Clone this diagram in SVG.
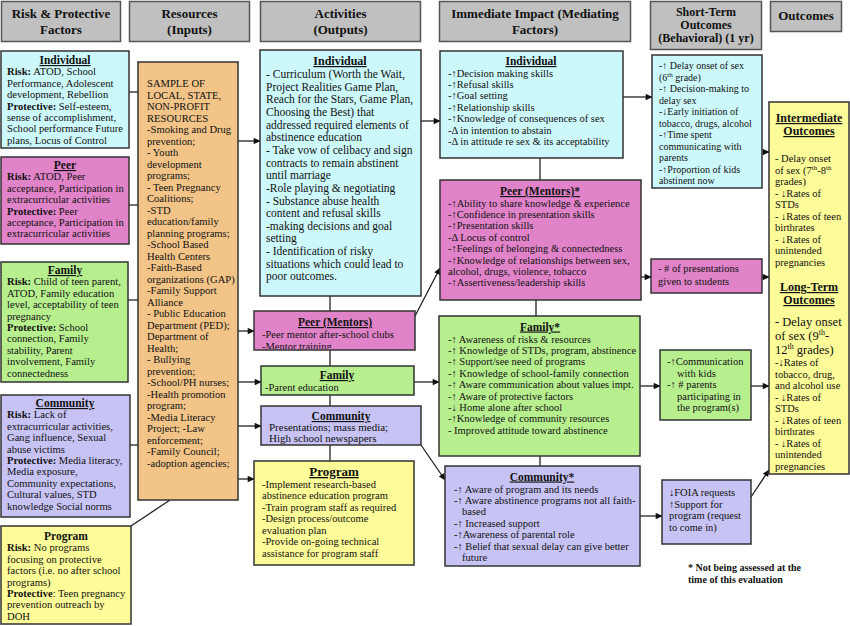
<svg xmlns="http://www.w3.org/2000/svg" width="850" height="626" viewBox="0 0 850 626">
<style>
text{font-family:"Liberation Serif","Times New Roman",serif;fill:#111;font-size:11px}
.hd{fill:#c0c0c0;stroke:#555;stroke-width:1.5}
.ht{font-weight:bold;font-size:13px;text-anchor:middle}
.bx{stroke:#333;stroke-width:1.5}
.cy{fill:#cdf8fb}.mg{fill:#e083c8}.gr{fill:#b7ef8f}.lv{fill:#c7c3f5}.yl{fill:#fdfc98}.tn{fill:#f2c488}
.ti{font-weight:bold;text-decoration:underline;text-anchor:middle;font-size:11.5px}
.b{font-weight:bold}
.l{font-size:10.6px}
.r{font-size:10.6px}
.a{font-size:11.5px}
.s{font-size:10.5px}
.p{font-size:10px}
.big{font-size:12.5px}
.con line{stroke:#222;stroke-width:1.3}
.con .ar{marker-end:url(#ar)}
</style>
<defs>
<marker id="ar" viewBox="0 0 10 10" refX="9" refY="5" markerWidth="8" markerHeight="7" markerUnits="userSpaceOnUse" orient="auto"><path d="M0,0.5 L10,5 L0,9.5 z" fill="#111"/></marker>
<clipPath id="cpPeer"><rect x="254" y="311" width="161" height="38"/></clipPath>
</defs>
<rect width="850" height="626" fill="#fff"/>

<g id="headers">
<g id="h-risk"><rect class="hd" x="1.5" y="1.5" width="119" height="40"/><text class="ht" x="61" y="18">Risk &amp; Protective</text><text class="ht" x="61" y="34">Factors</text></g>
<g id="h-resources"><rect class="hd" x="129.5" y="1.5" width="120" height="40"/><text class="ht" x="189.5" y="18">Resources</text><text class="ht" x="189.5" y="34">(Inputs)</text></g>
<g id="h-activities"><rect class="hd" x="260.5" y="1.5" width="160" height="40"/><text class="ht" x="340.5" y="18">Activities</text><text class="ht" x="340.5" y="34">(Outputs)</text></g>
<g id="h-impact"><rect class="hd" x="439.5" y="1.5" width="191" height="40"/><text class="ht" x="535" y="18">Immediate Impact (Mediating</text><text class="ht" x="535" y="34">Factors)</text></g>
<g id="h-short"><rect class="hd" x="650.5" y="1.5" width="111" height="48"/><text class="ht" style="font-size:12px" x="706" y="16">Short-Term</text><text class="ht" style="font-size:12px" x="706" y="29">Outcomes</text><text class="ht" style="font-size:12px" x="706" y="42">(Behavioral) (1 yr)</text></g>
<g id="h-outcomes"><rect class="hd" x="770.5" y="1.5" width="71" height="30"/><text class="ht" x="806" y="20">Outcomes</text></g>
</g>

<g id="connectors" class="con">
<line x1="129" y1="92" x2="138" y2="92"/>
<line x1="129" y1="205" x2="138" y2="205"/>
<line x1="128" y1="300" x2="138" y2="300"/>
<line x1="130" y1="445" x2="138" y2="445"/>
<line x1="128" y1="528" x2="170" y2="500"/>
<line class="ar" x1="238" y1="141" x2="260" y2="141"/>
<line class="ar" x1="238" y1="331" x2="254" y2="331"/>
<line class="ar" x1="238" y1="382" x2="261" y2="382"/>
<line class="ar" x1="238" y1="426" x2="261" y2="426"/>
<line class="ar" x1="238" y1="479" x2="254" y2="479"/>
<line x1="330" y1="296" x2="330" y2="311"/>
<line x1="330" y1="350" x2="330" y2="366"/>
<line x1="330" y1="395" x2="330" y2="406"/>
<line x1="330" y1="445" x2="330" y2="461"/>
<line class="ar" x1="421" y1="121" x2="440" y2="121"/>
<line class="ar" x1="414" y1="318" x2="440" y2="268"/>
<line class="ar" x1="414" y1="382" x2="439" y2="382"/>
<line class="ar" x1="421" y1="445" x2="445" y2="480"/>
<line x1="540" y1="158" x2="540" y2="180"/>
<line x1="536" y1="300" x2="536" y2="316"/>
<line x1="540" y1="456" x2="540" y2="466"/>
<line class="ar" x1="623" y1="97" x2="652" y2="97"/>
<line class="ar" x1="641" y1="277" x2="651" y2="277"/>
<line class="ar" x1="640" y1="386" x2="660" y2="386"/>
<line class="ar" x1="640" y1="516" x2="662" y2="516"/>
<line class="ar" x1="762" y1="152" x2="769" y2="152"/>
<line class="ar" x1="762" y1="277" x2="769" y2="277"/>
<line class="ar" x1="751" y1="386" x2="769" y2="386"/>
<line class="ar" x1="751" y1="497" x2="769" y2="470"/>
</g>

<g id="rp-individual">
<rect class="bx cy" x="1" y="51" width="128" height="97"/>
<text class="ti" x="65" y="64">Individual</text>
<text class="l" x="7" y="75.4"><tspan class="b">Risk:</tspan> ATOD, School</text>
<text class="l" x="7" y="86.8">Performance, Adolescent</text>
<text class="l" x="7" y="98.2">development, Rebellion</text>
<text class="l" x="7" y="109.6"><tspan class="b">Protective:</tspan> Self-esteem,</text>
<text class="l" x="7" y="121">sense of accomplishment,</text>
<text class="l" x="7" y="132.4">School performance Future</text>
<text class="l" x="7" y="143.8">plans, Locus of Control</text>
</g>
<g id="rp-peer">
<rect class="bx mg" x="1" y="157" width="128" height="87"/>
<text class="ti" x="65" y="169">Peer</text>
<text class="l" x="7" y="180.4"><tspan class="b">Risk:</tspan> ATOD, Peer</text>
<text class="l" x="7" y="191.8">acceptance, Participation in</text>
<text class="l" x="7" y="203.2">extracurricular activities</text>
<text class="l" x="7" y="214.6"><tspan class="b">Protective:</tspan> Peer</text>
<text class="l" x="7" y="226">acceptance, Participation in</text>
<text class="l" x="7" y="237.4">extracurricular activities</text>
</g>
<g id="rp-family">
<rect class="bx gr" x="1" y="262" width="127" height="120"/>
<text class="ti" x="65" y="274">Family</text>
<text class="l" x="7" y="285.4"><tspan class="b">Risk:</tspan> Child of teen parent,</text>
<text class="l" x="7" y="296.8">ATOD, Family education</text>
<text class="l" x="7" y="308.2">level, acceptability of teen</text>
<text class="l" x="7" y="319.6">pregnancy</text>
<text class="l" x="7" y="331"><tspan class="b">Protective:</tspan> School</text>
<text class="l" x="7" y="342.4">connection, Family</text>
<text class="l" x="7" y="353.8">stability, Parent</text>
<text class="l" x="7" y="365.2">involvement, Family</text>
<text class="l" x="7" y="376.6">connectedness</text>
</g>
<g id="rp-community">
<rect class="bx lv" x="1" y="395" width="129" height="122"/>
<text class="ti" x="65" y="407">Community</text>
<text class="l" x="7" y="418.4"><tspan class="b">Risk:</tspan> Lack of</text>
<text class="l" x="7" y="429.8">extracurricular activities,</text>
<text class="l" x="7" y="441.2">Gang influence, Sexual</text>
<text class="l" x="7" y="452.6">abuse victims</text>
<text class="l" x="7" y="464"><tspan class="b">Protective:</tspan> Media literacy,</text>
<text class="l" x="7" y="475.4">Media exposure,</text>
<text class="l" x="7" y="486.8">Community expectations,</text>
<text class="l" x="7" y="498.2">Cultural values, STD</text>
<text class="l" x="7" y="509.6">knowledge Social norms</text>
</g>
<g id="rp-program">
<rect class="bx yl" x="1" y="526" width="130" height="98"/>
<text class="b" x="66" y="540" text-anchor="middle" style="font-size:11.5px">Program</text>
<text class="l" x="7" y="551.4"><tspan class="b">Risk:</tspan> No programs</text>
<text class="l" x="7" y="562.8">focusing on protective</text>
<text class="l" x="7" y="574.2">factors (i.e. no after school</text>
<text class="l" x="7" y="585.6">programs)</text>
<text class="l" x="7" y="597"><tspan class="b">Protective</tspan>: Teen pregnancy</text>
<text class="l" x="7" y="608.4">prevention outreach by</text>
<text class="l" x="7" y="619.8">DOH</text>
</g>

<g id="resources">
<rect class="bx tn" x="138" y="62" width="100" height="438"/>
<text class="r" x="147" y="87">SAMPLE OF</text>
<text class="r" x="147" y="98.5">LOCAL, STATE,</text>
<text class="r" x="147" y="110">NON-PROFIT</text>
<text class="r" x="147" y="121.5">RESOURCES</text>
<text class="r" x="147" y="133">-Smoking and Drug</text>
<text class="r" x="147" y="144.5">prevention;</text>
<text class="r" x="147" y="156">- Youth</text>
<text class="r" x="147" y="167.5">development</text>
<text class="r" x="147" y="179">programs;</text>
<text class="r" x="147" y="190.5">- Teen Pregnancy</text>
<text class="r" x="147" y="202">Coalitions;</text>
<text class="r" x="147" y="213.5">-STD</text>
<text class="r" x="147" y="225">education/family</text>
<text class="r" x="147" y="236.5">planning programs;</text>
<text class="r" x="147" y="248">-School Based</text>
<text class="r" x="147" y="259.5">Health Centers</text>
<text class="r" x="147" y="271">-Faith-Based</text>
<text class="r" x="147" y="282.5">organizations (GAP)</text>
<text class="r" x="147" y="294">-Family Support</text>
<text class="r" x="147" y="305.5">Alliance</text>
<text class="r" x="147" y="317">- Public Education</text>
<text class="r" x="147" y="328.5">Department (PED);</text>
<text class="r" x="147" y="340">Department of</text>
<text class="r" x="147" y="351.5">Health;</text>
<text class="r" x="147" y="363">- Bullying</text>
<text class="r" x="147" y="374.5">prevention;</text>
<text class="r" x="147" y="386">-School/PH nurses;</text>
<text class="r" x="147" y="397.5">-Health promotion</text>
<text class="r" x="147" y="409">program;</text>
<text class="r" x="147" y="420.5">-Media Literacy</text>
<text class="r" x="147" y="432">Project; -Law</text>
<text class="r" x="147" y="443.5">enforcement;</text>
<text class="r" x="147" y="455">-Family Council;</text>
<text class="r" x="147" y="466.5">-adoption agencies;</text>
</g>

<g id="act-individual">
<rect class="bx cy" x="260" y="50" width="161" height="246"/>
<text class="ti" x="340" y="65" style="font-size:12px">Individual</text>
<text class="a" x="266" y="78">- Curriculum (Worth the Wait,</text>
<text class="a" x="266" y="90.65">Project Realities Game Plan,</text>
<text class="a" x="266" y="103.3">Reach for the Stars, Game Plan,</text>
<text class="a" x="266" y="115.95">Choosing the Best) that</text>
<text class="a" x="266" y="128.6">addressed required elements of</text>
<text class="a" x="266" y="141.25">abstinence education</text>
<text class="a" x="266" y="153.9">- Take vow of celibacy and sign</text>
<text class="a" x="266" y="166.55">contracts to remain abstinent</text>
<text class="a" x="266" y="179.2">until marriage</text>
<text class="a" x="266" y="191.85">-Role playing &amp; negotiating</text>
<text class="a" x="266" y="204.5">- Substance abuse health</text>
<text class="a" x="266" y="217.15">content and refusal skills</text>
<text class="a" x="266" y="229.8">-making decisions and goal</text>
<text class="a" x="266" y="242.45">setting</text>
<text class="a" x="266" y="255.1">- Identification of risky</text>
<text class="a" x="266" y="267.75">situations which could lead to</text>
<text class="a" x="266" y="280.4">poor outcomes.</text>
</g>
<g id="act-peer">
<rect class="bx mg" x="254" y="311" width="161" height="39"/>
<text class="ti" x="335" y="326">Peer (Mentors)</text>
<text class="s" x="262" y="337.5">-Peer mentor after-school clubs</text>
<text class="s" x="262" y="349.5" clip-path="url(#cpPeer)">-Mentor training</text>
</g>
<g id="act-family">
<rect class="bx gr" x="261" y="366" width="153" height="29"/>
<text class="ti" x="337" y="379">Family</text>
<text class="s" x="265" y="390.5">-Parent education</text>
</g>
<g id="act-community">
<rect class="bx lv" x="261" y="406" width="160" height="39"/>
<text class="ti" x="341" y="420">Community</text>
<text x="269" y="431">Presentations; mass media;</text>
<text x="269" y="442">High school newspapers</text>
</g>
<g id="act-program">
<rect class="bx yl" x="254" y="461" width="160" height="104"/>
<text class="ti" x="334" y="476" style="font-size:13px">Program</text>
<text class="s" x="262" y="487.5">-Implement research-based</text>
<text class="s" x="262" y="499">abstinence education program</text>
<text class="s" x="262" y="510.5">-Train program staff as required</text>
<text class="s" x="262" y="522">-Design process/outcome</text>
<text class="s" x="262" y="533.5">evaluation plan</text>
<text class="s" x="262" y="545">-Provide on-going technical</text>
<text class="s" x="262" y="556.5">assistance for program staff</text>
</g>

<g id="imp-individual">
<rect class="bx cy" x="440" y="51" width="183" height="107"/>
<text class="ti" x="531" y="65">Individual</text>
<text class="s" x="448" y="76.5">-↑Decision making skills</text>
<text class="s" x="448" y="88">-↑Refusal skills</text>
<text class="s" x="448" y="99.4">-↑Goal setting</text>
<text class="s" x="448" y="110.8">-↑Relationship skills</text>
<text class="s" x="448" y="122.2">-↑Knowledge of consequences of sex</text>
<text class="s" x="448" y="133.6">-Δ in intention to abstain</text>
<text class="s" x="448" y="145">-Δ in attitude re sex &amp; its acceptability</text>
</g>
<g id="imp-peer">
<rect class="bx mg" x="440" y="180" width="201" height="120"/>
<text class="ti" x="540" y="195">Peer (Mentors)*</text>
<text class="s" x="448" y="206.5">-↑Ability to share knowledge &amp; experience</text>
<text class="s" x="448" y="218">-↑Confidence in presentation skills</text>
<text class="s" x="448" y="229.4">-↑Presentation skills</text>
<text class="s" x="448" y="240.8">-Δ Locus of control</text>
<text class="s" x="448" y="252.2">-↑Feelings of belonging &amp; connectedness</text>
<text class="s" x="448" y="263.6">-↑Knowledge of relationships between sex,</text>
<text class="s" x="448" y="275">alcohol, drugs, violence, tobacco</text>
<text class="s" x="448" y="286.4">-↑Assertiveness/leadership skills</text>
</g>
<g id="imp-family">
<rect class="bx gr" x="439" y="316" width="201" height="140"/>
<text class="ti" x="540" y="330.5">Family*</text>
<text class="s" x="448" y="342.5">-↑ Awareness of risks &amp; resources</text>
<text class="s" x="448" y="353.9">-↑ Knowledge of STDs, program, abstinence</text>
<text class="s" x="448" y="365.3">-↑ Support/see need of programs</text>
<text class="s" x="448" y="376.7">-↑ Knowledge of school-family connection</text>
<text class="s" x="448" y="388.1">-↑ Aware communication about values impt.</text>
<text class="s" x="448" y="399.5">-↑ Aware of protective factors</text>
<text class="s" x="448" y="410.9">-↓ Home alone after school</text>
<text class="s" x="448" y="422.3">-↑Knowledge of community resources</text>
<text class="s" x="448" y="433.7">- Improved attitude toward abstinence</text>
</g>
<g id="imp-community">
<rect class="bx lv" x="445" y="466" width="195" height="100"/>
<text class="ti" x="542" y="480.5">Community*</text>
<text class="s" x="454" y="492.5">-↑ Aware of program and its needs</text>
<text class="s" x="454" y="503.9">-↑ Aware abstinence programs not all faith-</text>
<text class="s" x="462" y="515.3">based</text>
<text class="s" x="454" y="526.7">-↑ Increased support</text>
<text class="s" x="454" y="538.1">-↑Awareness of parental role</text>
<text class="s" x="454" y="549.5">-↑ Belief that sexual delay can give better</text>
<text class="s" x="462" y="560.9">future</text>
</g>

<g id="st-individual">
<rect class="bx cy" x="652" y="55" width="110" height="133"/>
<text class="p" x="659" y="69">-↑ Delay onset of sex</text>
<text class="p" x="659" y="80.5">(6<tspan dy="-4" style="font-size:7px">th</tspan><tspan dy="4"> grade)</tspan></text>
<text class="p" x="659" y="92">-↑ Decision-making to</text>
<text class="p" x="659" y="103.5">delay sex</text>
<text class="p" x="659" y="115">-↓Early initiation of</text>
<text class="p" x="659" y="126.5">tobacco, drugs, alcohol</text>
<text class="p" x="659" y="138">-↑Time spent</text>
<text class="p" x="659" y="149.5">communicating with</text>
<text class="p" x="659" y="161">parents</text>
<text class="p" x="659" y="172.5">-↑Proportion of kids</text>
<text class="p" x="659" y="184">abstinent now</text>
</g>
<g id="st-peer">
<rect class="bx mg" x="651" y="259" width="111" height="34"/>
<text class="s" x="658" y="272">- # of presentations</text>
<text class="s" x="658" y="285">given to students</text>
</g>
<g id="st-family">
<rect class="bx gr" x="660" y="350" width="91" height="70"/>
<text class="s" x="667" y="365">-↑Communication</text>
<text class="s" x="677" y="376.5">with kids</text>
<text class="s" x="667" y="388">-↑ # parents</text>
<text class="s" x="677" y="399.5">participating in</text>
<text class="s" x="677" y="411">the program(s)</text>
</g>
<g id="st-community">
<rect class="bx lv" x="662" y="480" width="89" height="64"/>
<text class="s" x="669" y="496">↓FOIA requests</text>
<text class="s" x="669" y="507.5">↑Support for</text>
<text class="s" x="669" y="519">program (request</text>
<text class="s" x="669" y="530.5">to come in)</text>
</g>

<g id="outcomes">
<rect class="bx yl" x="769" y="102" width="80" height="372"/>
<text class="ti" x="809" y="122" style="font-size:12px">Intermediate</text>
<text class="ti" x="809" y="135" style="font-size:12px">Outcomes</text>
<text class="s" x="775" y="162">- Delay onset</text>
<text class="s" x="775" y="173.5">of  sex (7<tspan dy="-4" style="font-size:7px">th</tspan><tspan dy="4">-8</tspan><tspan dy="-4" style="font-size:7px">th</tspan></text>
<text class="s" x="775" y="185">grades)</text>
<text class="s" x="775" y="196.5">- ↓Rates of</text>
<text class="s" x="775" y="208">STDs</text>
<text class="s" x="775" y="219.5">- ↓Rates of teen</text>
<text class="s" x="775" y="231">birthrates</text>
<text class="s" x="775" y="242.5">- ↓Rates of</text>
<text class="s" x="775" y="254">unintended</text>
<text class="s" x="775" y="265.5">pregnancies</text>
<text class="ti" x="809" y="291" style="font-size:12px">Long-Term</text>
<text class="ti" x="809" y="304" style="font-size:12px">Outcomes</text>
<text class="big" x="775" y="326">- Delay onset</text>
<text class="big" x="775" y="340">of sex (9<tspan dy="-5" style="font-size:8px">th</tspan><tspan dy="5">-</tspan></text>
<text class="big" x="775" y="354">12<tspan dy="-5" style="font-size:8px">th</tspan><tspan dy="5"> grades)</tspan></text>
<text class="s" x="775" y="366">-↓Rates of</text>
<text class="s" x="775" y="377.5">tobacco, drug,</text>
<text class="s" x="775" y="389">and alcohol use</text>
<text class="s" x="775" y="400.5">- ↓Rates of</text>
<text class="s" x="775" y="412">STDs</text>
<text class="s" x="775" y="423.5">- ↓Rates of teen</text>
<text class="s" x="775" y="435">birthrates</text>
<text class="s" x="775" y="446.5">- ↓Rates of</text>
<text class="s" x="775" y="458">unintended</text>
<text class="s" x="775" y="469.5">pregnancies</text>
</g>

<g id="footnote">
<text class="b p" x="688" y="571">* Not being assessed at the</text>
<text class="b p" x="688" y="583">time of this evaluation</text>
</g>
</svg>
